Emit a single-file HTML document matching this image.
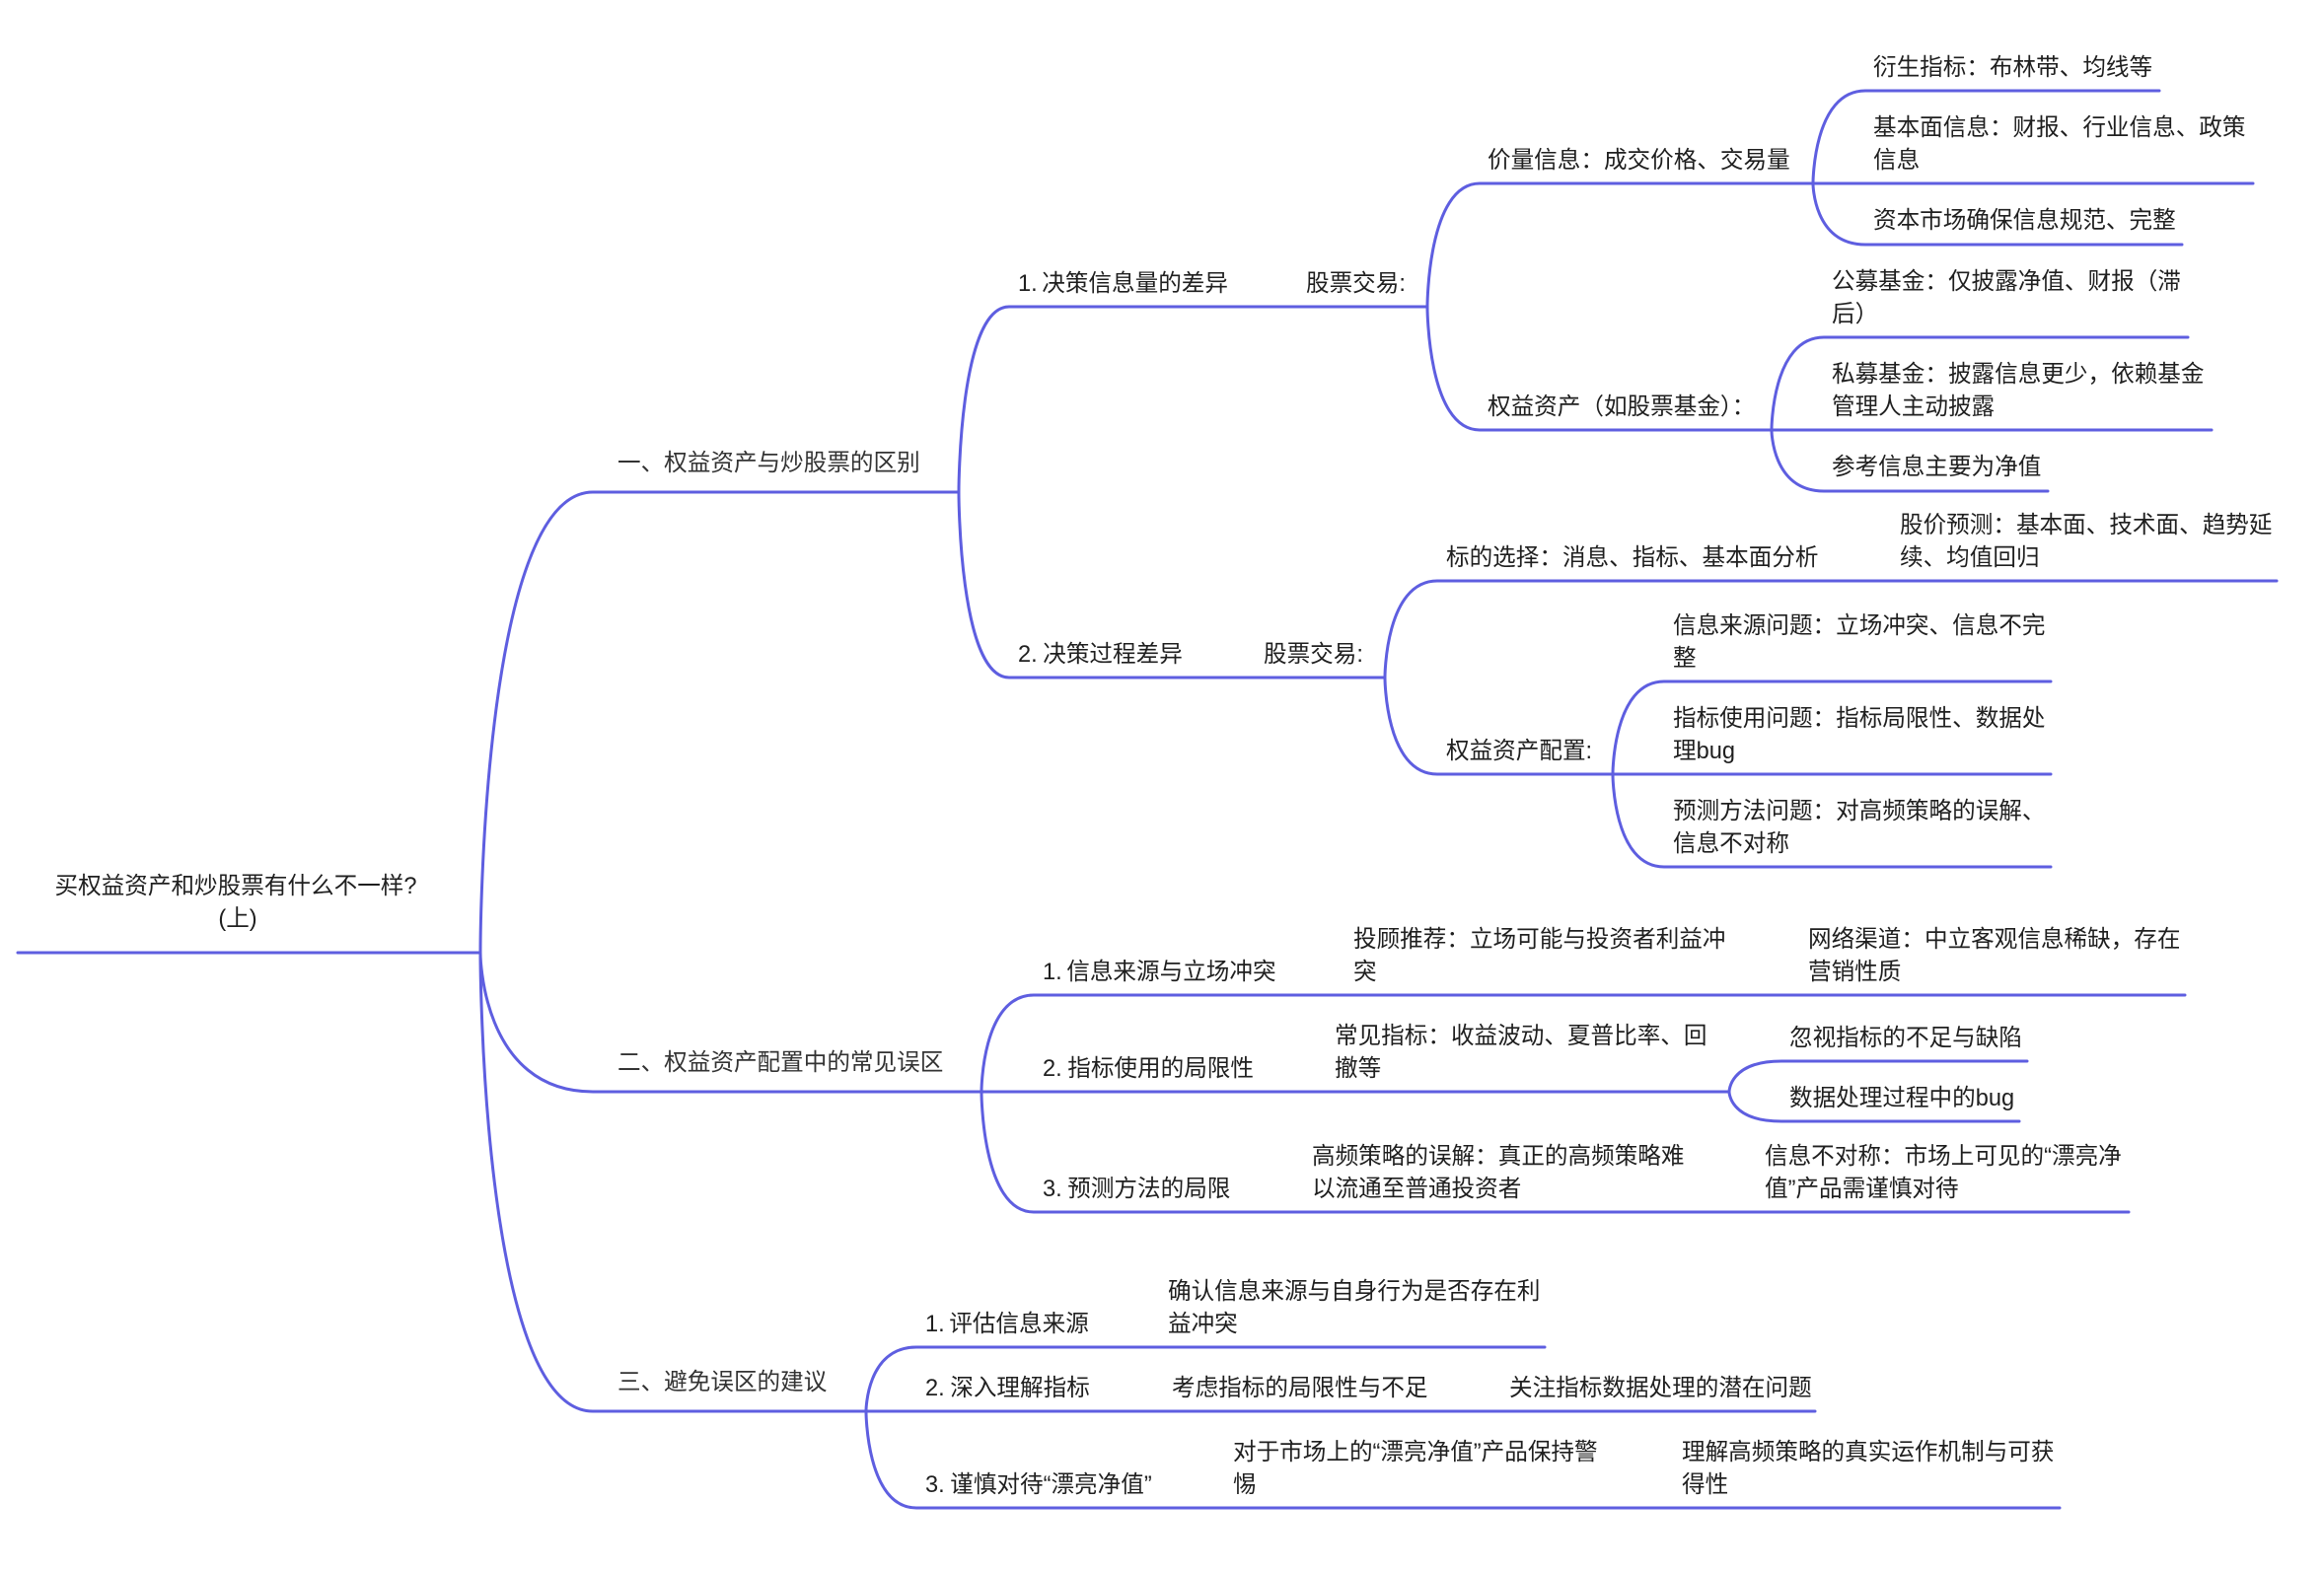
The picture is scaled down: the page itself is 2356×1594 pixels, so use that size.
<!DOCTYPE html>
<html lang="zh">
<head>
<meta charset="utf-8">
<style>
  html,body{margin:0;padding:0;background:#fff;}
  svg{display:block;}
  text{font-family:"Liberation Sans","Noto Sans CJK SC",sans-serif;font-size:23.6px;fill:#1f1f1f;}
  text.l1{fill:#333;}
  path{fill:none;stroke:#5e5ee0;stroke-width:3;stroke-linecap:round;}
</style>
</head>
<body>
<svg width="2356" height="1594" viewBox="0 0 2356 1594" xmlns="http://www.w3.org/2000/svg">
  <rect x="0" y="0" width="2356" height="1594" fill="#fff"/>

  <!-- root -->
  <path d="M18 966 H487"/>
  <path d="M487 966 C487 966 487 499 601 499 H972"/>
  <path d="M487 966 C487 966 487 1107 601 1107 H995"/>
  <path d="M487 966 C487 966 487 1431 601 1431 H878"/>

  <!-- 一 -->
  <path d="M972 499 C972 499 972 311 1023 311 H1447"/>
  <path d="M972 499 C972 499 972 687 1023 687 H1404"/>
  <!-- 股票交易 (1) -->
  <path d="M1447 311 C1447 311 1447 186 1500 186 H1838"/>
  <path d="M1447 311 C1447 311 1447 436 1500 436 H1796"/>
  <!-- 价量 -->
  <path d="M1838 186 C1838 186 1838 92 1891 92 H2189"/>
  <path d="M1838 186 H2284"/>
  <path d="M1838 186 C1838 186 1838 248 1891 248 H2212"/>
  <!-- 权益资产 -->
  <path d="M1796 436 C1796 436 1796 342 1849 342 H2218"/>
  <path d="M1796 436 H2242"/>
  <path d="M1796 436 C1796 436 1796 498 1849 498 H2076"/>
  <!-- 股票交易 (2) -->
  <path d="M1404 687 C1404 687 1404 589 1457 589 H2308"/>
  <path d="M1404 687 C1404 687 1404 785 1457 785 H1635"/>
  <!-- 权益资产配置 -->
  <path d="M1635 785 C1635 785 1635 691 1687 691 H2079"/>
  <path d="M1635 785 H2079"/>
  <path d="M1635 785 C1635 785 1635 879 1687 879 H2079"/>

  <!-- 二 -->
  <path d="M995 1107 C995 1107 995 1009 1048 1009 H2215"/>
  <path d="M995 1107 H1753"/>
  <path d="M995 1107 C995 1107 995 1229 1048 1229 H2158"/>
  <path d="M1753 1107 C1753 1107 1753 1076 1806 1076 H2055"/>
  <path d="M1753 1107 C1753 1107 1753 1137 1806 1137 H2047"/>

  <!-- 三 -->
  <path d="M878 1431 C878 1431 878 1366 929 1366 H1566"/>
  <path d="M878 1431 H1840"/>
  <path d="M878 1431 C878 1431 878 1529 929 1529 H2088"/>

  <!-- texts -->
  <text x="239" y="906" text-anchor="middle">买权益资产和炒股票有什么不一样?</text>
  <text x="241" y="939" text-anchor="middle">(上)</text>

  <text class="l1" x="626" y="477">一、权益资产与炒股票的区别</text>
  <text class="l1" x="626" y="1085">二、权益资产配置中的常见误区</text>
  <text class="l1" x="626" y="1409">三、避免误区的建议</text>

  <text x="1032" y="295">1. <tspan dx="-2">决策信息量的差异</tspan></text>
  <text x="1324" y="295">股票交易:</text>
  <text x="1508" y="170">价量信息：成交价格、交易量</text>
  <text x="1899" y="76">衍生指标：布林带、均线等</text>
  <text x="1899" y="137">基本面信息：财报、行业信息、政策</text>
  <text x="1899" y="170">信息</text>
  <text x="1899" y="231">资本市场确保信息规范、完整</text>
  <text x="1508" y="420">权益资产（如股票基金）：</text>
  <text x="1857" y="293">公募基金：仅披露净值、财报（滞</text>
  <text x="1857" y="326">后）</text>
  <text x="1857" y="387">私募基金：披露信息更少，依赖基金</text>
  <text x="1857" y="420">管理人主动披露</text>
  <text x="1857" y="481">参考信息主要为净值</text>

  <text x="1032" y="671">2. <tspan dx="-1">决策过程差异</tspan></text>
  <text x="1281" y="671">股票交易:</text>
  <text x="1466" y="573">标的选择：消息、指标、基本面分析</text>
  <text x="1926" y="540">股价预测：基本面、技术面、趋势延</text>
  <text x="1926" y="573">续、均值回归</text>
  <text x="1466" y="769">权益资产配置:</text>
  <text x="1696" y="642">信息来源问题：立场冲突、信息不完</text>
  <text x="1696" y="675">整</text>
  <text x="1696" y="736">指标使用问题：指标局限性、数据处</text>
  <text x="1696" y="769">理bug</text>
  <text x="1696" y="830">预测方法问题：对高频策略的误解、</text>
  <text x="1696" y="863">信息不对称</text>

  <text x="1057" y="993">1. <tspan dx="-2">信息来源与立场冲突</tspan></text>
  <text x="1372" y="960">投顾推荐：立场可能与投资者利益冲</text>
  <text x="1372" y="993">突</text>
  <text x="1833" y="960">网络渠道：中立客观信息稀缺，存在</text>
  <text x="1833" y="993">营销性质</text>
  <text x="1057" y="1091">2. <tspan dx="-1">指标使用的局限性</tspan></text>
  <text x="1353" y="1058">常见指标：收益波动、夏普比率、回</text>
  <text x="1353" y="1091">撤等</text>
  <text x="1814" y="1060">忽视指标的不足与缺陷</text>
  <text x="1814" y="1121">数据处理过程中的bug</text>
  <text x="1057" y="1213">3. <tspan dx="-1">预测方法的局限</tspan></text>
  <text x="1330" y="1180">高频策略的误解：真正的高频策略难</text>
  <text x="1330" y="1213">以流通至普通投资者</text>
  <text x="1789" y="1180">信息不对称：市场上可见的“漂亮净</text>
  <text x="1789" y="1213">值”产品需谨慎对待</text>

  <text x="938" y="1350">1. <tspan dx="-2">评估信息来源</tspan></text>
  <text x="1184" y="1317">确认信息来源与自身行为是否存在利</text>
  <text x="1184" y="1350">益冲突</text>
  <text x="938" y="1415">2. <tspan dx="-1">深入理解指标</tspan></text>
  <text x="1188" y="1415">考虑指标的局限性与不足</text>
  <text x="1530" y="1415">关注指标数据处理的潜在问题</text>
  <text x="938" y="1513">3. <tspan dx="-1">谨慎对待“漂亮净值”</tspan></text>
  <text x="1250" y="1480">对于市场上的“漂亮净值”产品保持警</text>
  <text x="1250" y="1513">惕</text>
  <text x="1705" y="1480">理解高频策略的真实运作机制与可获</text>
  <text x="1705" y="1513">得性</text>
</svg>
</body>
</html>
